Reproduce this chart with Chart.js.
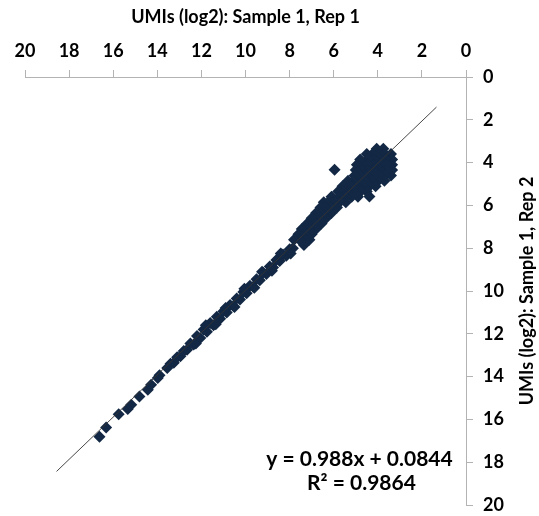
<!DOCTYPE html>
<html>
<head>
<meta charset="utf-8">
<script src="https://cdn.jsdelivr.net/npm/chart.js@4/dist/chart.umd.min.js"></script>
<style>
  html, body { margin: 0; padding: 0; background: #fff; }
  #wrap { width: 539px; height: 516px; }
</style>
</head>
<body>
<div id="wrap"><canvas id="umiChart" width="539" height="516"></canvas></div>
<script>
// Rep 1 (x) and Rep 2 (y) log2 UMI counts
// (the dense low-count cloud is listed row by row)
const rep1 = [
  3.75, 4.05,
  3.4, 3.68, 3.96, 4.24, 4.5,
  3.35, 3.63, 3.91, 4.19, 4.47, 4.8,
  3.35, 3.63, 3.91, 4.19, 4.47, 4.75, 4.95,
  3.35, 3.63, 3.91, 4.19, 4.47, 4.75, 5.0, 5.96,
  3.4, 3.68, 3.96, 4.24, 4.52, 4.8, 5.05,
  3.7, 3.98, 4.26, 4.54, 4.82, 5.1, 5.35,
  4.1, 4.38, 4.66, 4.94, 5.22, 5.6,
  4.5, 4.78, 5.06, 5.34, 5.56, 5.8, 4.38,
  4.9, 5.18, 5.46, 5.74, 6.1,
  5.45, 5.73, 6.01, 6.25, 6.45,
  5.85, 6.13, 6.38, 6.6,
  6.1, 6.38, 6.6, 6.8,
  6.35, 6.63, 6.85, 7.0,
  6.55, 6.83, 7.05, 7.2,
  6.8, 7.08, 7.3, 7.45,
  7.0, 7.3, 7.6, 7.1,
  7.3, 7.55, 7.8, 7.35,
  7.85, 8.0, 8.15, 8.3, 8.45, 8.6, 8.75, 8.9, 9.05, 9.2,
  9.35, 9.5, 9.65, 9.8, 9.95, 10.1, 10.25, 10.4, 10.55, 10.7,
  10.85, 11.0, 11.15, 11.3, 11.45, 11.6, 11.75, 11.9, 12.05, 12.2,
  12.35, 12.5, 12.65, 12.8, 12.95, 13.1, 13.25, 13.4, 13.55,
  7.95, 8.4, 8.8, 9.25, 9.6, 10.05, 10.5, 10.9, 11.35, 11.8, 12.25,
  13.9, 13.98, 14.28, 14.43, 14.81, 15.18, 15.34, 15.75, 16.32, 16.62
];
const rep2 = [
  3.35, 3.35,
  3.6, 3.6, 3.6, 3.6, 3.6,
  3.85, 3.85, 3.85, 3.85, 3.85, 3.85,
  4.1, 4.1, 4.1, 4.1, 4.1, 4.1, 4.1,
  4.35, 4.35, 4.35, 4.35, 4.35, 4.35, 4.35, 4.33,
  4.6, 4.6, 4.6, 4.6, 4.6, 4.6, 4.6,
  4.85, 4.85, 4.85, 4.85, 4.85, 4.85, 4.85,
  5.1, 5.1, 5.1, 5.1, 5.1, 5.1,
  5.35, 5.35, 5.35, 5.35, 5.35, 5.35, 5.58,
  5.6, 5.6, 5.6, 5.6, 5.6,
  5.85, 5.85, 5.85, 5.85, 5.85,
  6.1, 6.1, 6.1, 6.1,
  6.35, 6.35, 6.35, 6.35,
  6.6, 6.6, 6.6, 6.6,
  6.85, 6.85, 6.85, 6.85,
  7.1, 7.1, 7.1, 7.1,
  7.35, 7.35, 7.35, 7.6,
  7.6, 7.6, 7.6, 7.85,
  8.0, 8.05, 8.35, 8.3, 8.6, 8.55, 8.9, 8.85, 9.2, 9.15,
  9.5, 9.45, 9.8, 9.75, 10.1, 10.05, 10.4, 10.35, 10.7, 10.65,
  11.0, 10.95, 11.3, 11.2, 11.6, 11.5, 11.9, 11.8, 12.2, 12.1,
  12.5, 12.45, 12.75, 12.8, 13.05, 13.1, 13.35, 13.4, 13.6,
  8.25, 8.25, 9.05, 9.1, 9.85, 9.9, 10.75, 10.8, 11.55, 11.6, 12.45,
  13.94, 14.07, 14.38, 14.61, 14.93, 15.32, 15.51, 15.76, 16.38, 16.81
];

// linear trendline as reported on the chart, drawn a bit past the data
const slope = 0.988;
const intercept = 0.0844;
const rSquared = 0.9864;
const trendRange = [1.34, 18.57];

const axisTicks = [0, 2, 4, 6, 8, 10, 12, 14, 16, 18, 20];
const xTitle = 'UMIs (log2): Sample 1, Rep 1';
const yTitle = 'UMIs (log2): Sample 1, Rep 2';

const FONT = 'Lato, "DejaVu Sans", sans-serif';
const NAVY = '#132844';
const AXIS_GREY = '#b3b3b3';

const points = rep1.map((x, i) => ({ x, y: rep2[i] }));
const trend = trendRange.map(x => ({ x, y: slope * x + intercept }));

// right-hand title reads bottom to top, and the fit label sits in the corner
const extras = {
  id: 'extras',
  afterDraw(chart) {
    const { ctx, chartArea, scales } = chart;
    ctx.save();
    ctx.fillStyle = '#000';
    ctx.font = `bold 18px ${FONT}`;
    ctx.textAlign = 'center';
    ctx.textBaseline = 'middle';

    ctx.translate(chart.width - 12, (chartArea.top + chartArea.bottom) / 2);
    ctx.rotate(-Math.PI / 2);
    ctx.fillText(yTitle, 0, 0);
    ctx.setTransform(1, 0, 0, 1, 0, 0);

    ctx.font = `bold 21px ${FONT}`;
    const cx = scales.x.getPixelForValue(4.83);
    ctx.fillText(`y = ${slope}x + ${intercept}`, cx, scales.y.getPixelForValue(17.84));
    ctx.fillText(`R\u00b2 = ${rSquared}`, cx + 2, scales.y.getPixelForValue(19.0));
    ctx.restore();
  }
};

new Chart(document.getElementById('umiChart'), {
  type: 'scatter',
  data: {
    datasets: [
      {
        type: 'line',
        data: trend,
        borderColor: '#333',
        borderWidth: 0.9,
        pointRadius: 0,
        fill: false
      },
      {
        data: points,
        backgroundColor: NAVY,
        borderColor: NAVY,
        borderWidth: 0,
        pointStyle: 'rectRot',
        pointRadius: 6
      }
    ]
  },
  options: {
    responsive: false,
    animation: false,
    events: [],
    layout: { padding: { left: 25, right: 0, top: 0, bottom: 11 } },
    plugins: { legend: { display: false }, tooltip: { enabled: false } },
    scales: {
      x: {
        type: 'linear',
        position: 'top',
        reverse: true,
        min: 0,
        max: 20,
        afterBuildTicks: s => { s.ticks = axisTicks.map(v => ({ value: v })); },
        afterFit: s => { s.height = 77; s.paddingLeft = 0; s.paddingRight = 0; },
        ticks: { color: '#000', font: { family: FONT, size: 18, weight: 'bold' }, padding: 8, maxRotation: 0 },
        grid: { drawOnChartArea: false, drawTicks: true, tickLength: 7, color: AXIS_GREY },
        border: { color: AXIS_GREY },
        title: {
          display: true,
          text: xTitle,
          color: '#000',
          font: { family: FONT, size: 18, weight: 'bold' },
          padding: { top: 6, bottom: 4 }
        }
      },
      y: {
        type: 'linear',
        position: 'right',
        reverse: true,
        min: 0,
        max: 20,
        afterBuildTicks: s => { s.ticks = axisTicks.map(v => ({ value: v })); },
        afterFit: s => { s.width = 73; s.paddingTop = 0; s.paddingBottom = 0; },
        ticks: { color: '#000', font: { family: FONT, size: 18, weight: 'bold' }, padding: 10 },
        grid: { drawOnChartArea: false, drawTicks: true, tickLength: 7, color: AXIS_GREY },
        border: { color: AXIS_GREY }
      }
    }
  },
  plugins: [extras]
});
</script>
</body>
</html>
